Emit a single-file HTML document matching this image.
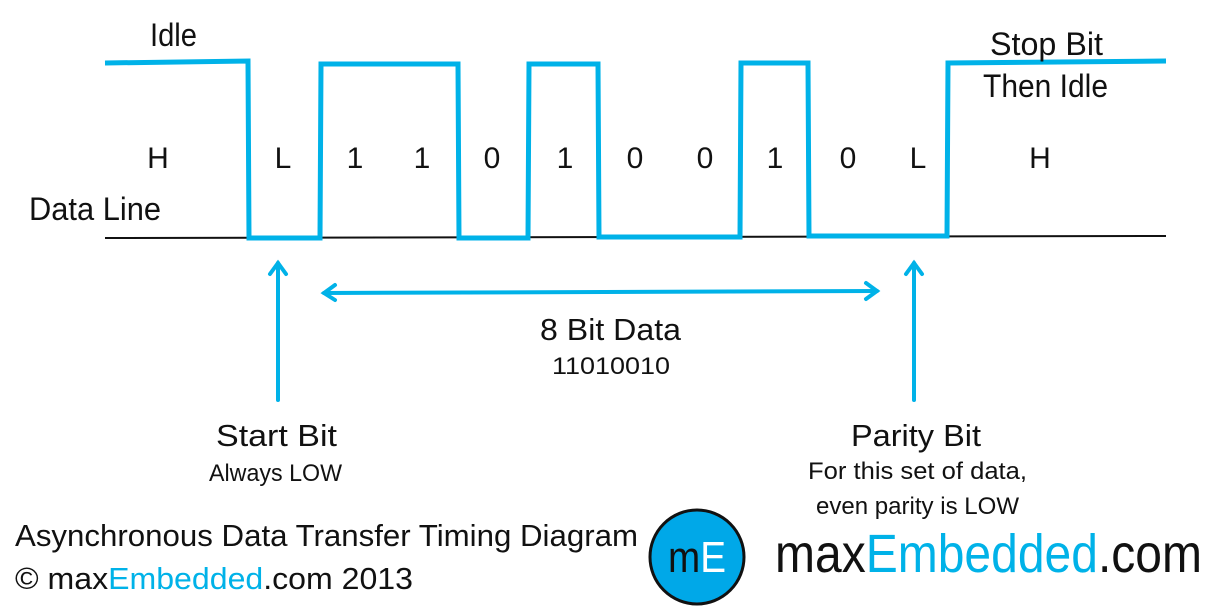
<!DOCTYPE html>
<html><head><meta charset="utf-8"><style>html,body{margin:0;padding:0;background:#fff}svg{display:block}text{font-family:"Liberation Sans",sans-serif;fill:#111}</style></head>
<body>
<svg width="1224" height="611" viewBox="0 0 1224 611" xmlns="http://www.w3.org/2000/svg">
<line x1="105" y1="238" x2="1166" y2="236" stroke="#111" stroke-width="2"/>
<polyline fill="none" stroke="#00b2e8" stroke-width="5" points="105,63 248,61 249,238 320,238 321,64 458,64 459,238 528,238 529,64 598,64 599,237 740,237 741,63 808,63 809,236 947,236 948,63 1166,61"/>
<g stroke="#00b2e8" stroke-width="4" fill="none" stroke-linecap="round">
<line x1="278" y1="400" x2="278" y2="263"/><polyline points="270,274 278,263 286,274"/>
<line x1="914" y1="400" x2="914" y2="263"/><polyline points="906,274 914,263 922,274"/>
<line x1="324" y1="293" x2="877" y2="291"/><polyline points="335,285 324,293 335,300"/><polyline points="866,283 877,291 866,299"/>
</g>
<g font-size="32">
<text x="150" y="46" textLength="47" lengthAdjust="spacingAndGlyphs">Idle</text>
<text x="990" y="55" textLength="113" lengthAdjust="spacingAndGlyphs">Stop Bit</text>
<text x="983" y="97" textLength="125" lengthAdjust="spacingAndGlyphs">Then Idle</text>
<text x="29" y="220" textLength="132" lengthAdjust="spacingAndGlyphs">Data Line</text>
</g>
<g font-size="30" text-anchor="middle">
<text x="158" y="168">H</text><text x="283" y="168">L</text><text x="355" y="168">1</text><text x="422" y="168">1</text><text x="492" y="168">0</text><text x="565" y="168">1</text><text x="635" y="168">0</text><text x="705" y="168">0</text><text x="775" y="168">1</text><text x="848" y="168">0</text><text x="918" y="168">L</text><text x="1040" y="168">H</text>
</g>
<g font-size="31">
<text x="540" y="340" textLength="141" lengthAdjust="spacingAndGlyphs">8 Bit Data</text>
<text x="216" y="446" textLength="121" lengthAdjust="spacingAndGlyphs">Start Bit</text>
<text x="851" y="446" textLength="130" lengthAdjust="spacingAndGlyphs">Parity Bit</text>
<text x="15" y="546" textLength="623" lengthAdjust="spacingAndGlyphs">Asynchronous Data Transfer Timing Diagram</text>
<text x="15" y="589" textLength="398" lengthAdjust="spacingAndGlyphs">© max<tspan fill="#00b2e8">Embedded</tspan>.com 2013</text>
</g>
<g font-size="24">
<text x="552" y="374" textLength="118" lengthAdjust="spacingAndGlyphs">11010010</text>
<text x="209" y="481" textLength="133" lengthAdjust="spacingAndGlyphs">Always LOW</text>
<text x="808" y="479" textLength="219" lengthAdjust="spacingAndGlyphs">For this set of data,</text>
<text x="816" y="514" textLength="203" lengthAdjust="spacingAndGlyphs">even parity is LOW</text>
</g>
<circle cx="697" cy="557" r="47" fill="#00a8e8" stroke="#111" stroke-width="3"/>
<text x="668" y="572" font-size="44" textLength="58" lengthAdjust="spacingAndGlyphs">m<tspan style="fill:#fff">E</tspan></text>
<text x="775" y="572" font-size="54" textLength="427" lengthAdjust="spacingAndGlyphs">max<tspan fill="#00b2e8">Embedded</tspan>.com</text>
</svg>
</body></html>
